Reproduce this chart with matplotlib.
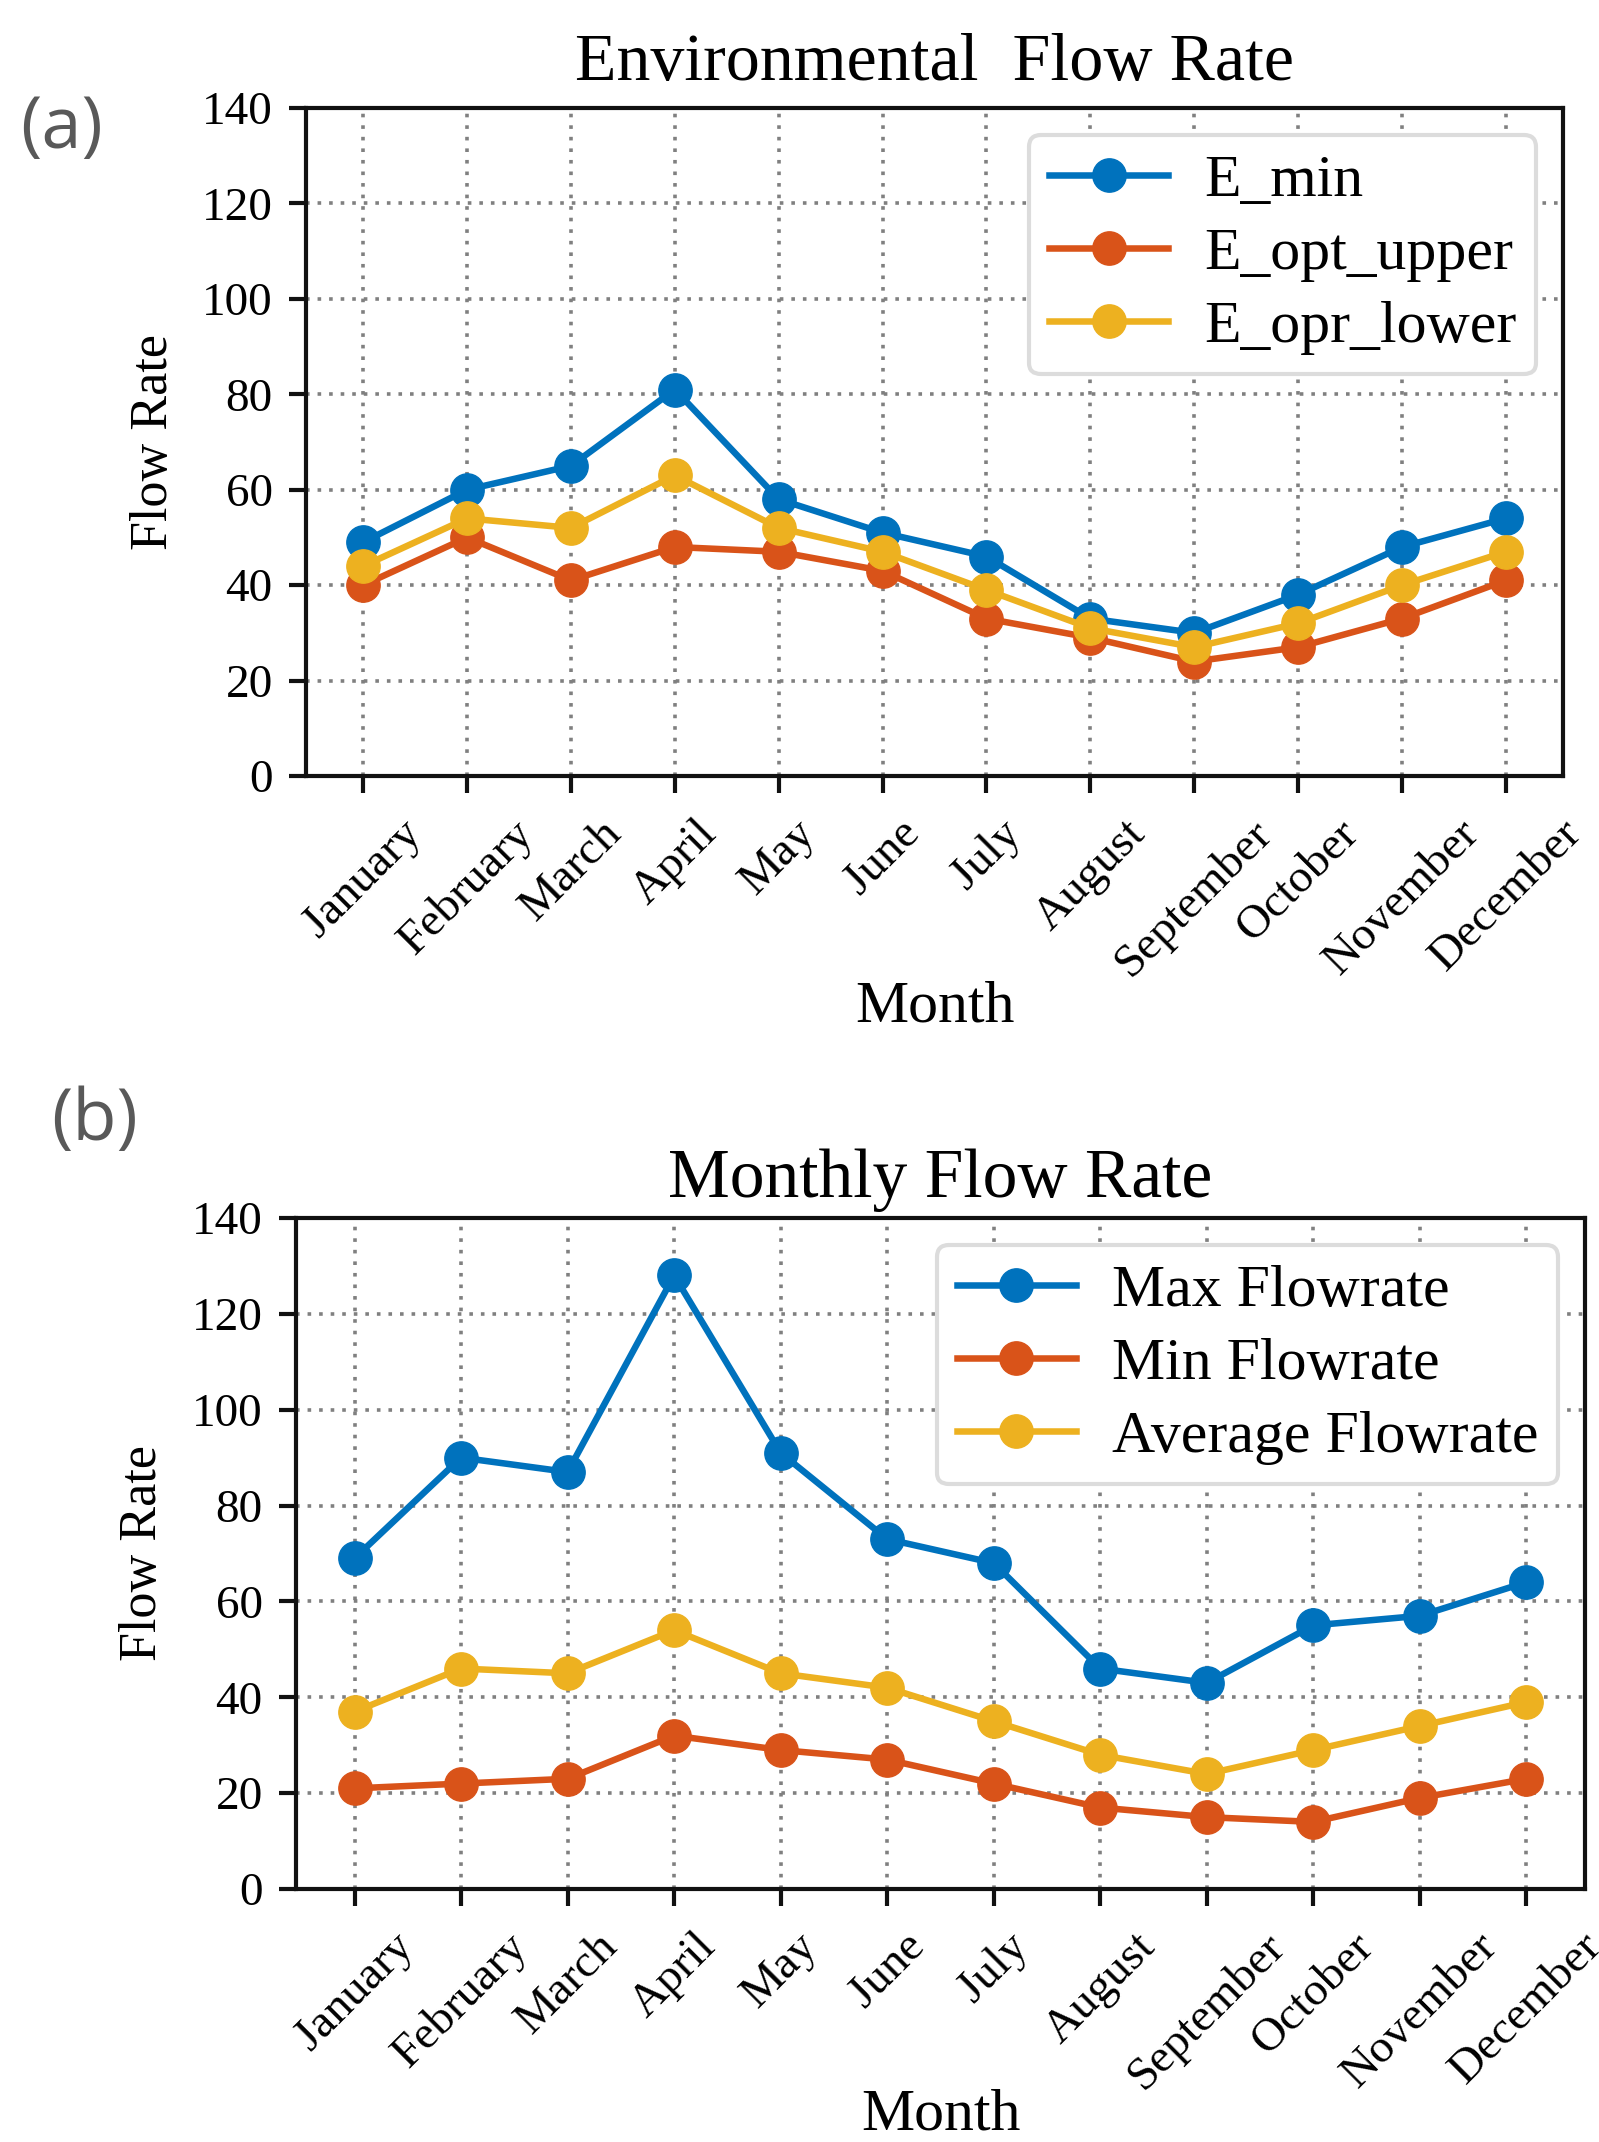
import matplotlib
matplotlib.use("Agg")
import matplotlib.pyplot as plt
import numpy as np

months = ["January", "February", "March", "April", "May", "June", "July",
          "August", "September", "October", "November", "December"]

e_min = [49, 60, 65, 81, 58, 51, 46, 33, 30, 38, 48, 54]
e_opt_upper = [40, 50, 41, 48, 47, 43, 33, 29, 24, 27, 33, 41]
e_opr_lower = [44, 54, 52, 63, 52, 47, 39, 31, 27, 32, 40, 47]

max_flow = [69, 90, 87, 128, 91, 73, 68, 46, 43, 55, 57, 64]
min_flow = [21, 22, 23, 32, 29, 27, 22, 17, 15, 14, 19, 23]
avg_flow = [37, 46, 45, 54, 45, 42, 35, 28, 24, 29, 34, 39]

yticks = [0, 20, 40, 60, 80, 100, 120, 140]

BLUE = "#0072BD"
ORANGE = "#D95319"
YELLOW = "#EDB120"

plt.rcParams["font.family"] = ["Liberation Serif", "DejaVu Serif"]

fig = plt.figure(figsize=(15.99, 21.42), dpi=100)

ax_a = fig.add_axes([0.1914, 0.6377, 0.7861, 0.3119])
ax_b = fig.add_axes([0.1851, 0.1181, 0.8061, 0.3133])

LEG = 43
XLAB = 43
YLAB = 37.5
TICK = 34


def style(ax, series, labels, title, title_size, ylab_x, xlab_y, title_pad):
    x = np.arange(len(months))
    for vals, lab, col in zip(series, labels, [BLUE, ORANGE, YELLOW]):
        ax.plot(x, vals, color=col, lw=4.7, marker="o", markersize=24,
                markerfacecolor=col, markeredgecolor=col, label=lab)
    ax.set_ylim(0, 140)
    ax.set_yticks(yticks)
    ax.set_xticks(x)
    ax.set_xticklabels(months, rotation=45, ha="center")
    ax.grid(True, linestyle=(0, (1, 2.2)), color="#808080", lw=2.6)
    ax.set_axisbelow(True)
    for sp in ax.spines.values():
        sp.set_linewidth(3)
        sp.set_color("#111111")
    ax.tick_params(axis="both", direction="out", length=12, width=3,
                   labelsize=TICK, color="#111111")
    ax.tick_params(axis="x", pad=14)
    ax.tick_params(axis="y", pad=12)
    ax.set_title(title, fontsize=title_size, pad=title_pad)
    ax.set_xlabel("Month", fontsize=XLAB)
    ax.set_ylabel("Flow Rate", fontsize=YLAB)
    ax.xaxis.set_label_coords(0.5, xlab_y)
    ax.yaxis.set_label_coords(ylab_x, 0.5)
    leg = ax.legend(loc="upper right", fontsize=LEG, handlelength=2.0,
                    handletextpad=0.6, labelspacing=0.3, borderpad=0.33,
                    borderaxespad=0.45, framealpha=1.0, fancybox=True)
    leg.get_frame().set_edgecolor("#dcdcdc")
    leg.get_frame().set_linewidth(3)


style(ax_a, [e_min, e_opt_upper, e_opr_lower],
      ["E_min", "E_opt_upper", "E_opr_lower"],
      "Environmental  Flow Rate", 49, -0.102, -0.306, 20)
style(ax_b, [max_flow, min_flow, avg_flow],
      ["Max Flowrate", "Min Flowrate", "Average Flowrate"],
      "Monthly Flow Rate", 50, -0.1, -0.297, 15)

fig.text(20 / 1599, 1 - 129 / 2142, "(a)", fontsize=52, color="#595959",
         family=["Open Sans", "DejaVu Sans"], ha="left", va="center")
fig.text(51 / 1599, 1 - 1121 / 2142, "(b)", fontsize=52, color="#595959",
         family=["Open Sans", "DejaVu Sans"], ha="left", va="center")

fig.savefig("out.png", dpi=100)
